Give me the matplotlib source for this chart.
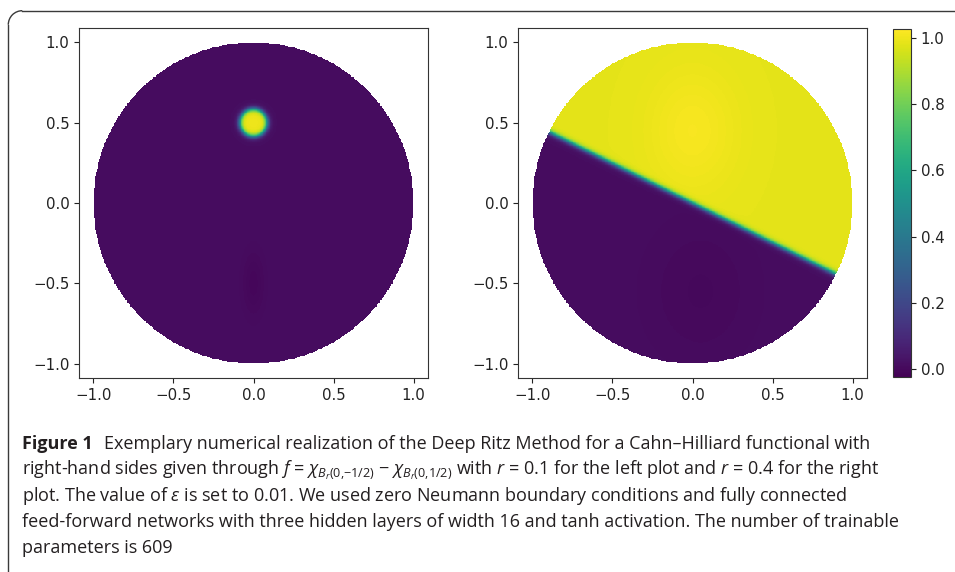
import numpy as np
import matplotlib
matplotlib.use("Agg")
import matplotlib.pyplot as plt
from matplotlib import font_manager
from matplotlib.patches import Arc

# ---- field parameters ----
GRID_N = 420
VMIN, VMAX = -0.024, 1.027

# left plot: small droplet at (0, 0.5), faint dark streak around (0, -0.5)
LEFT_BASE = 0.012
LEFT_BLOB_CENTER = (0.0, 0.5)
LEFT_BLOB_RADIUS = 0.085
LEFT_BLOB_PEAK = 1.0
LEFT_DIP_CENTER = (0.0, -0.5)
LEFT_DIP_DEPTH = -0.018

# right plot: straight interface through the origin, slope about -0.49
RIGHT_LOW = 0.012
RIGHT_HIGH = 0.985
RIGHT_ANGLE_DEG = -26.3
RIGHT_WIDTH = 0.018
RIGHT_BUMP_CENTER = (0.0, 0.45)
RIGHT_BUMP = 0.03
RIGHT_DIP_CENTER = (0.05, -0.55)
RIGHT_DIP = -0.012

TICKS = [-1.0, -0.5, 0.0, 0.5, 1.0]
CBAR_TICKS = [0.0, 0.2, 0.4, 0.6, 0.8, 1.0]

CAPTION_BOLD = "Figure 1"
CAPTION_LINES = [
    "Exemplary numerical realization of the Deep Ritz Method for a Cahn\u2013Hilliard functional with",
    r"right-hand sides given through $f$ = $\chi_{B_r(0{,}{-}1/2)}$ $-$ $\chi_{B_r(0{,}1/2)}$ with $r$ = 0.1 for the left plot and $r$ = 0.4 for the right",
    r"plot. The value of $\varepsilon$ is set to 0.01. We used zero Neumann boundary conditions and fully connected",
    "feed-forward networks with three hidden layers of width 16 and tanh activation. The number of trainable",
    "parameters is 609",
]


def left_field(x, y):
    r = np.hypot(x - LEFT_BLOB_CENTER[0], y - LEFT_BLOB_CENTER[1])
    blob = 0.5 * (1 - np.tanh((r - LEFT_BLOB_RADIUS) / 0.018))
    dip = np.exp(-((x - LEFT_DIP_CENTER[0]) / 0.07) ** 2 - ((y - LEFT_DIP_CENTER[1]) / 0.2) ** 2)
    return LEFT_BASE + (LEFT_BLOB_PEAK - LEFT_BASE) * blob + LEFT_DIP_DEPTH * dip


def right_field(x, y):
    th = np.deg2rad(RIGHT_ANGLE_DEG)
    d = -np.sin(th) * x + np.cos(th) * y
    u = RIGHT_LOW + (RIGHT_HIGH - RIGHT_LOW) * 0.5 * (1 + np.tanh(d / RIGHT_WIDTH))
    bump = np.exp(-((x - RIGHT_BUMP_CENTER[0]) ** 2 / 0.08 + (y - RIGHT_BUMP_CENTER[1]) ** 2 / 0.15))
    dip = np.exp(-((x - RIGHT_DIP_CENTER[0]) ** 2 / 0.12 + (y - RIGHT_DIP_CENTER[1]) ** 2 / 0.2))
    return u + RIGHT_BUMP * bump * (d > 0) + RIGHT_DIP * dip * (d < 0)


xs = np.linspace(-1, 1, GRID_N)
X, Y = np.meshgrid(xs, xs)
outside = X ** 2 + Y ** 2 > 1.0
Z_left = np.ma.array(left_field(X, Y), mask=outside)
Z_right = np.ma.array(right_field(X, Y), mask=outside)

plt.rcParams["font.family"] = "DejaVu Sans"
installed = {f.name for f in font_manager.fontManager.ttflist}
cap_font = "Liberation Sans Narrow" if "Liberation Sans Narrow" in installed else "Open Sans"
plt.rcParams["mathtext.fontset"] = "custom"
plt.rcParams["mathtext.rm"] = cap_font
plt.rcParams["mathtext.it"] = cap_font + ":italic"
plt.rcParams["mathtext.bf"] = cap_font + ":bold"

W, H = 955, 572
fig = plt.figure(figsize=(W / 100, H / 100), dpi=100, facecolor="white")


def px_axes(x0, y0, x1, y1):
    return fig.add_axes([x0 / W, 1 - y1 / H, (x1 - x0) / W, (y1 - y0) / H])


ax_l = px_axes(79, 28, 428, 378)
ax_r = px_axes(518, 28, 867, 378)
cax = px_axes(893, 29, 911, 377)

for ax, Z in ((ax_l, Z_left), (ax_r, Z_right)):
    im = ax.imshow(Z, origin="lower", extent=[-1, 1, -1, 1], cmap="viridis",
                   vmin=VMIN, vmax=VMAX, interpolation="nearest")
    ax.set_xlim(-1.09, 1.09)
    ax.set_ylim(-1.09, 1.09)
    ax.set_aspect("auto")
    ax.set_xticks(TICKS)
    ax.set_yticks(TICKS)
    ax.tick_params(labelsize=10.8, colors="#222222")
    for s in ax.spines.values():
        s.set_color("#333333")

cb = fig.colorbar(im, cax=cax, ticks=CBAR_TICKS)
cb.ax.tick_params(labelsize=10.8, colors="#222222")
cb.outline.set_edgecolor("#333333")

# overlay in pixel coordinates for the caption box and text
ov = fig.add_axes([0, 0, 1, 1], facecolor="none")
ov.set_xlim(0, W)
ov.set_ylim(H, 0)
ov.axis("off")

frame_kw = dict(color="#3a3a3a", lw=1.0)
rad = 14
ov.plot([8.3, 8.3], [H + 5, 10.7 + rad], **frame_kw)
ov.plot([8.3 + rad, W + 5], [10.7, 10.7], **frame_kw)
ov.add_patch(Arc((8.3 + rad, 10.7 + rad), 2 * rad, 2 * rad, theta1=180, theta2=270,
                 color="#3a3a3a", lw=1.0))

txt_color = "#231f20"
base_size = 12
line_y = [444, 470, 496, 522, 548]

fig.canvas.draw()
renderer = fig.canvas.get_renderer()

# size the caption so that the lines span about the same width as in the picture
probe_b = ov.text(22, line_y[0], CAPTION_BOLD, fontsize=base_size, family=cap_font,
                  fontweight="bold", va="center", ha="left")
bw = probe_b.get_window_extent(renderer).width
probe_t = ov.text(0, 0, CAPTION_LINES[0], fontsize=base_size, family=cap_font)
tw = probe_t.get_window_extent(renderer).width
probe_4 = ov.text(0, 0, CAPTION_LINES[3], fontsize=base_size, family=cap_font)
w4 = probe_4.get_window_extent(renderer).width
for p in (probe_b, probe_t, probe_4):
    p.remove()
gap = 0.9 * base_size
scale = 0.5 * ((883 - 22) / (bw + tw + gap) + (878 - 22) / w4)
size = base_size * scale

tb = ov.text(22, line_y[0], CAPTION_BOLD, fontsize=size, family=cap_font,
             fontweight="bold", va="center", ha="left", color=txt_color)
bx = tb.get_window_extent(renderer).x1
ov.text(bx + gap * scale, line_y[0], CAPTION_LINES[0], fontsize=size, family=cap_font,
        va="center", ha="left", color=txt_color)
for y, line in zip(line_y[1:], CAPTION_LINES[1:]):
    ov.text(22, y, line, fontsize=size, family=cap_font, va="center", ha="left",
            color=txt_color)

fig.savefig("out.png", dpi=100, facecolor="white")
